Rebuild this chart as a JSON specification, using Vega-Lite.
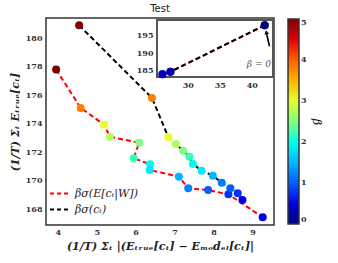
{
  "$schema": "https://vega.github.io/schema/vega-lite/v6.json",
  "autosize": {"type": "none"},
  "padding": {"left": 46, "top": 18, "right": 64, "bottom": 38},
  "width": 228,
  "height": 207,
  "title": {"text": "Test", "fontSize": 10, "font": "DejaVu Sans", "fontWeight": "normal", "offset": 4, "color": "#222"},
  "config": {
    "view": {"stroke": "#333", "strokeWidth": 1.5},
    "axis": {"grid": false, "domain": false, "ticks": false, "labelOverlap": false, "labelFont": "DejaVu Serif", "labelFontSize": 8, "labelFontWeight": "bold", "labelColor": "#333"}
  },
  "datasets": {
    "main": [
      {"series": "βσ(E[cₜ|W])", "beta": 5, "x": 3.96, "y": 177.8},
      {"series": "βσ(E[cₜ|W])", "beta": 3.75, "x": 4.59, "y": 175.11},
      {"series": "βσ(E[cₜ|W])", "beta": 3, "x": 5.19, "y": 173.94},
      {"series": "βσ(E[cₜ|W])", "beta": 2.75, "x": 5.34, "y": 173.09},
      {"series": "βσ(E[cₜ|W])", "beta": 2.5, "x": 6.09, "y": 172.67},
      {"series": "βσ(E[cₜ|W])", "beta": 2.25, "x": 5.95, "y": 171.58},
      {"series": "βσ(E[cₜ|W])", "beta": 2, "x": 6.37, "y": 171.16},
      {"series": "βσ(E[cₜ|W])", "beta": 1.75, "x": 6.36, "y": 170.76},
      {"series": "βσ(E[cₜ|W])", "beta": 1.5, "x": 7.11, "y": 170.29},
      {"series": "βσ(E[cₜ|W])", "beta": 1.25, "x": 7.35, "y": 169.47},
      {"series": "βσ(E[cₜ|W])", "beta": 1, "x": 7.86, "y": 169.35},
      {"series": "βσ(E[cₜ|W])", "beta": 0.75, "x": 8.38, "y": 169.05},
      {"series": "βσ(E[cₜ|W])", "beta": 0.5, "x": 9.26, "y": 167.44},
      {"series": "βσ(cₜ)", "beta": 5, "x": 4.55, "y": 180.91},
      {"series": "βσ(cₜ)", "beta": 3.75, "x": 6.42, "y": 175.81},
      {"series": "βσ(cₜ)", "beta": 3, "x": 6.84, "y": 173.05},
      {"series": "βσ(cₜ)", "beta": 2.75, "x": 7.03, "y": 172.58},
      {"series": "βσ(cₜ)", "beta": 2.5, "x": 7.22, "y": 172.11},
      {"series": "βσ(cₜ)", "beta": 2.25, "x": 7.38, "y": 171.69},
      {"series": "βσ(cₜ)", "beta": 2, "x": 7.47, "y": 171.18},
      {"series": "βσ(cₜ)", "beta": 1.75, "x": 7.69, "y": 170.71},
      {"series": "βσ(cₜ)", "beta": 1.5, "x": 7.98, "y": 170.36},
      {"series": "βσ(cₜ)", "beta": 1.25, "x": 8.21, "y": 169.87},
      {"series": "βσ(cₜ)", "beta": 1, "x": 8.43, "y": 169.47},
      {"series": "βσ(cₜ)", "beta": 0.75, "x": 8.62, "y": 169.12},
      {"series": "βσ(cₜ)", "beta": 0.5, "x": 8.74, "y": 168.65}
    ],
    "inset": [
      {"series": "βσ(E[cₜ|W])", "beta": 0, "x": 42.0, "y": 198.0},
      {"series": "βσ(E[cₜ|W])", "beta": 0.2, "x": 27.3, "y": 184.7},
      {"series": "βσ(E[cₜ|W])", "beta": 0.3, "x": 26.05, "y": 184.0},
      {"series": "βσ(cₜ)", "beta": 0, "x": 42.0, "y": 198.0},
      {"series": "βσ(cₜ)", "beta": 0.2, "x": 27.3, "y": 184.7},
      {"series": "βσ(cₜ)", "beta": 0.3, "x": 26.05, "y": 184.0}
    ]
  },
  "layer": [
    {
      "data": {"name": "main"},
      "layer": [
        {
          "mark": {"type": "line", "strokeDash": [5, 3], "strokeWidth": 2},
          "encoding": {
            "x": {"field": "x", "type": "quantitative", "scale": {"domain": [3.7, 9.55], "nice": false, "zero": false}, "axis": {"values": [4, 5, 6, 7, 8, 9], "labelPadding": 3, "title": "(1/T) Σₜ |(Eₜᵣᵤₑ[cₜ] − Eₘₒdₑₗ[cₜ]|", "titleFont": "DejaVu Serif", "titleFontStyle": "italic", "titleFontWeight": "bold", "titleFontSize": 11, "titlePadding": 4, "titleColor": "#222"}},
            "y": {"field": "y", "type": "quantitative", "scale": {"domain": [166.9, 181.42], "nice": false, "zero": false}, "axis": {"values": [168, 170, 172, 174, 176, 178, 180], "labelPadding": 4, "title": "(1/T) Σₜ Eₜᵣᵤₑ[cₜ]", "titleFont": "DejaVu Serif", "titleFontStyle": "italic", "titleFontWeight": "bold", "titleFontSize": 11, "titlePadding": 5, "titleColor": "#222"}},
            "stroke": {"field": "series", "type": "nominal", "scale": {"domain": ["βσ(E[cₜ|W])", "βσ(cₜ)"], "range": ["#ff0000", "#000000"]}, "legend": {"orient": "none", "legendX": 8, "legendY": 169, "title": null, "symbolType": "M-2,0H2", "symbolSize": 110, "symbolStrokeWidth": 2, "symbolDash": [4, 3], "symbolFillColor": "transparent", "labelFont": "DejaVu Serif", "labelFontStyle": "italic", "labelFontSize": 11, "labelColor": "#222", "labelOffset": 8, "rowPadding": 4}},
            "order": {"field": "beta", "type": "quantitative", "sort": "descending"}
          }
        },
        {
          "mark": {"type": "circle", "size": 64, "opacity": 1},
          "encoding": {
            "x": {"field": "x", "type": "quantitative", "scale": {"domain": [3.7, 9.55], "nice": false, "zero": false}, "axis": {"values": [4, 5, 6, 7, 8, 9], "labelPadding": 3, "title": "(1/T) Σₜ |(Eₜᵣᵤₑ[cₜ] − Eₘₒdₑₗ[cₜ]|", "titleFont": "DejaVu Serif", "titleFontStyle": "italic", "titleFontWeight": "bold", "titleFontSize": 11, "titlePadding": 4, "titleColor": "#222"}},
            "y": {"field": "y", "type": "quantitative", "scale": {"domain": [166.9, 181.42], "nice": false, "zero": false}, "axis": {"values": [168, 170, 172, 174, 176, 178, 180], "labelPadding": 4, "title": "(1/T) Σₜ Eₜᵣᵤₑ[cₜ]", "titleFont": "DejaVu Serif", "titleFontStyle": "italic", "titleFontWeight": "bold", "titleFontSize": 11, "titlePadding": 5, "titleColor": "#222"}},
            "fill": {"field": "beta", "type": "quantitative", "scale": {"domain": [0, 0.625, 1.25, 1.875, 2.5, 3.125, 3.75, 4.375, 5], "range": ["#00007f", "#0000ff", "#007fff", "#00ffff", "#7fff7f", "#ffff00", "#ff7f00", "#ff0000", "#7f0000"]}, "legend": {"orient": "none", "direction": "vertical", "legendX": 242, "legendY": 1, "gradientLength": 205, "gradientThickness": 11, "gradientStrokeColor": "#333", "gradientStrokeWidth": 1.5, "values": [0, 1, 2, 3, 4, 5], "labelFont": "DejaVu Serif", "labelFontSize": 8, "labelFontWeight": "bold", "labelColor": "#333", "labelOverlap": false, "title": "β", "titleOrient": "right", "titleAngle": 270, "titleFont": "DejaVu Serif", "titleFontStyle": "italic", "titleFontSize": 11, "titleFontWeight": "normal", "titlePadding": 4}}
          }
        }
      ]
    },
    {
      "layer": [
        {
          "data": {"values": [{}]},
          "mark": {"type": "rect", "fill": "white", "stroke": "#555", "strokeWidth": 2},
          "encoding": {
            "x": {"datum": 25.2, "type": "quantitative", "scale": {"domain": [25.2, 43.3], "range": [111, 227], "nice": false, "zero": false}, "axis": {"orient": "bottom", "offset": -148, "values": [30, 35, 40], "labelPadding": 4, "title": null}},
            "x2": {"datum": 43.3},
            "y": {"datum": 183.2, "type": "quantitative", "scale": {"domain": [183.2, 199.5], "range": [59, 2], "nice": false, "zero": false}, "axis": {"orient": "left", "offset": -111, "values": [185, 190, 195], "labelPadding": 4, "title": null}},
            "y2": {"datum": 199.5}
          }
        },
        {
          "data": {"name": "inset"},
          "mark": {"type": "line", "strokeDash": [5, 3], "strokeWidth": 2},
          "encoding": {
            "x": {"field": "x", "type": "quantitative", "scale": {"domain": [25.2, 43.3], "range": [111, 227], "nice": false, "zero": false}, "axis": {"orient": "bottom", "offset": -148, "values": [30, 35, 40], "labelPadding": 4, "title": null}},
            "y": {"field": "y", "type": "quantitative", "scale": {"domain": [183.2, 199.5], "range": [59, 2], "nice": false, "zero": false}, "axis": {"orient": "left", "offset": -111, "values": [185, 190, 195], "labelPadding": 4, "title": null}},
            "stroke": {"field": "series", "type": "nominal", "scale": {"domain": ["βσ(E[cₜ|W])", "βσ(cₜ)"], "range": ["#ff0000", "#000000"]}, "legend": {"orient": "none", "legendX": 8, "legendY": 169, "title": null, "symbolType": "M-2,0H2", "symbolSize": 110, "symbolStrokeWidth": 2, "symbolDash": [4, 3], "symbolFillColor": "transparent", "labelFont": "DejaVu Serif", "labelFontStyle": "italic", "labelFontSize": 11, "labelColor": "#222", "labelOffset": 8, "rowPadding": 4}},
            "order": {"field": "beta", "type": "quantitative"}
          }
        },
        {
          "data": {"name": "inset"},
          "mark": {"type": "circle", "size": 64, "opacity": 1},
          "encoding": {
            "x": {"field": "x", "type": "quantitative", "scale": {"domain": [25.2, 43.3], "range": [111, 227], "nice": false, "zero": false}, "axis": {"orient": "bottom", "offset": -148, "values": [30, 35, 40], "labelPadding": 4, "title": null}},
            "y": {"field": "y", "type": "quantitative", "scale": {"domain": [183.2, 199.5], "range": [59, 2], "nice": false, "zero": false}, "axis": {"orient": "left", "offset": -111, "values": [185, 190, 195], "labelPadding": 4, "title": null}},
            "fill": {"field": "beta", "type": "quantitative", "scale": {"domain": [0, 0.625, 1.25, 1.875, 2.5, 3.125, 3.75, 4.375, 5], "range": ["#00007f", "#0000ff", "#007fff", "#00ffff", "#7fff7f", "#ffff00", "#ff7f00", "#ff0000", "#7f0000"]}, "legend": {"orient": "none", "direction": "vertical", "legendX": 242, "legendY": 1, "gradientLength": 205, "gradientThickness": 11, "gradientStrokeColor": "#333", "gradientStrokeWidth": 1.5, "values": [0, 1, 2, 3, 4, 5], "labelFont": "DejaVu Serif", "labelFontSize": 8, "labelFontWeight": "bold", "labelColor": "#333", "labelOverlap": false, "title": "β", "titleOrient": "right", "titleAngle": 270, "titleFont": "DejaVu Serif", "titleFontStyle": "italic", "titleFontSize": 11, "titleFontWeight": "normal", "titlePadding": 4}}
          }
        },
        {
          "data": {"values": [{}]},
          "mark": {"type": "rule", "color": "black", "strokeWidth": 1.6},
          "encoding": {
            "x": {"datum": 42.75, "type": "quantitative", "scale": {"domain": [25.2, 43.3], "range": [111, 227], "nice": false, "zero": false}},
            "y": {"datum": 192.0, "type": "quantitative", "scale": {"domain": [183.2, 199.5], "range": [59, 2], "nice": false, "zero": false}},
            "x2": {"datum": 42.3},
            "y2": {"datum": 195.6}
          }
        },
        {
          "data": {"values": [{}]},
          "mark": {"type": "point", "shape": "triangle-up", "filled": true, "color": "black", "size": 22, "opacity": 1, "angle": -14},
          "encoding": {
            "x": {"datum": 42.26, "type": "quantitative", "scale": {"domain": [25.2, 43.3], "range": [111, 227], "nice": false, "zero": false}},
            "y": {"datum": 196.0, "type": "quantitative", "scale": {"domain": [183.2, 199.5], "range": [59, 2], "nice": false, "zero": false}}
          }
        },
        {
          "data": {"values": [{}]},
          "mark": {"type": "text", "text": "β = 0", "align": "right", "baseline": "middle", "font": "DejaVu Serif", "fontStyle": "italic", "fontSize": 9, "color": "#555"},
          "encoding": {
            "x": {"datum": 43.0, "type": "quantitative", "scale": {"domain": [25.2, 43.3], "range": [111, 227], "nice": false, "zero": false}},
            "y": {"datum": 186.9, "type": "quantitative", "scale": {"domain": [183.2, 199.5], "range": [59, 2], "nice": false, "zero": false}}
          }
        }
      ]
    }
  ],
  "resolve": {"scale": {"x": "independent", "y": "independent"}, "axis": {"x": "independent", "y": "independent"}}
}
